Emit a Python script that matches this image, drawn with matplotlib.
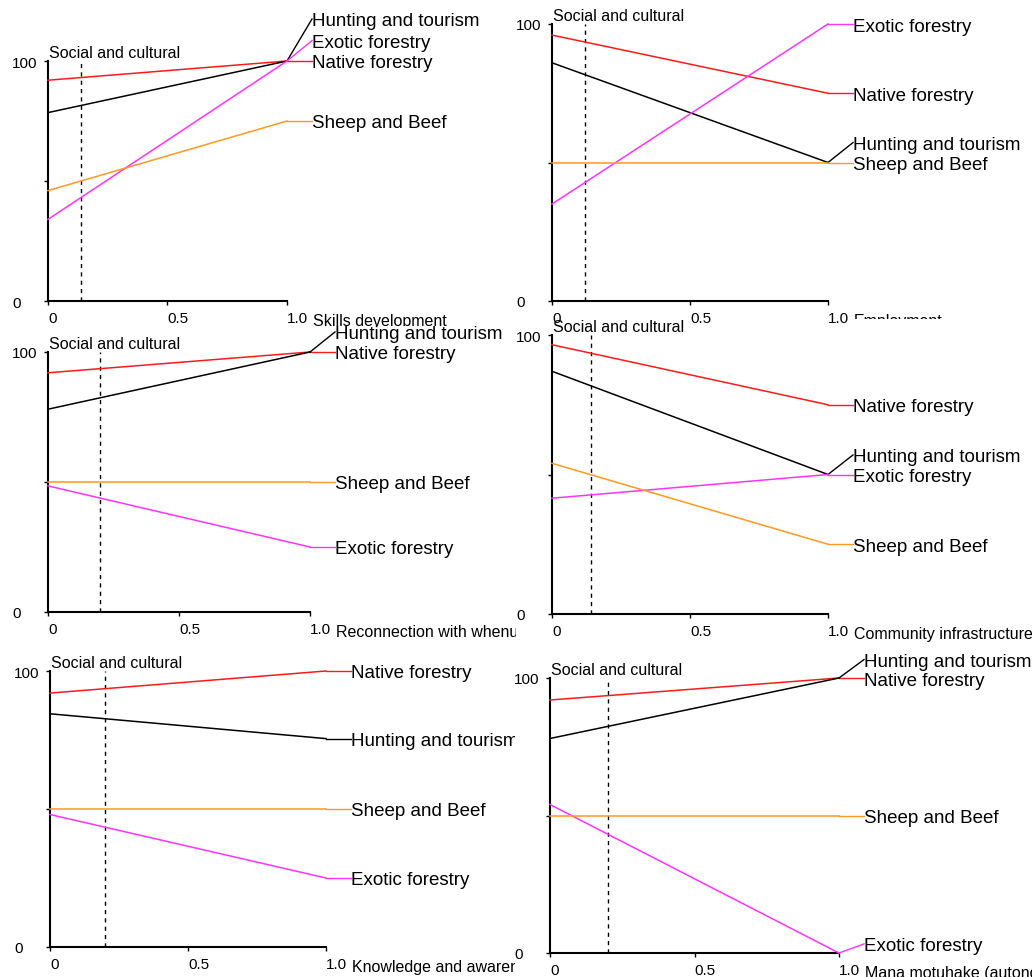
import matplotlib
matplotlib.use('Agg')
import matplotlib.pyplot as plt
from matplotlib.transforms import offset_copy

plt.rcParams['font.family'] = ['Liberation Sans', 'DejaVu Sans']

W, H = 1032, 978

# ---- data ----
alternatives = ['Native forestry', 'Hunting and tourism', 'Exotic forestry', 'Sheep and Beef']
colors = ['#ff1a1a', '#000000', '#ff33ff', '#ff9922']

criteria = ['Skills development', 'Employment', 'Reconnection with whenua',
            'Community infrastructure', 'Knowledge and awareness', 'Mana motuhake (autonomy)']
parent_criterion = 'Social and cultural'
current_weight = [0.14, 0.12, 0.20, 0.14, 0.20, 0.20]

# scores at weight 0 and weight 1 for each criterion (panel)
native_start = [92, 96, 92, 96.5, 92, 92]
native_end = [100, 75, 100, 75, 100, 100]
hunting_start = [78.5, 86, 78, 87, 84.5, 78]
hunting_end = [100, 50, 100, 50, 75.5, 100]
exotic_start = [34, 35, 48.5, 41.5, 48, 54]
exotic_end = [100, 100, 25, 50, 25, 0]
sheep_start = [46, 50, 50, 54, 50, 50]
sheep_end = [75, 50, 50, 25, 50, 50]

# where the end labels sit (score units)
native_label = [100, 75, 100, 75, 100, 100]
hunting_label = [117.5, 57.2, 107.7, 57, 75.5, 106.7]
exotic_label = [108.5, 100, 25, 50, 25, 3.3]
sheep_label = [75, 50, 50, 25, 50, 50]

x_ticks = [0, 0.5, 1.0]
x_ticklabels = ['0', '0.5', '1.0']
y_ticks = [0, 50, 100]
y_ticklabels = ['0', '', '100']

starts = [native_start, hunting_start, exotic_start, sheep_start]
ends = [native_end, hunting_end, exotic_end, sheep_end]
labels_y = [native_label, hunting_label, exotic_label, sheep_label]

# ---- layout (pixels): clip box L,T,R,B ; x0px, x1px, y0px, y100px ----
panels = [
    ((0, 0, 514, 327), (48, 287, 302, 62)),
    ((514, 0, 1032, 320), (552, 828, 302, 25)),
    ((0, 323, 516, 645), (48, 310, 613, 353)),
    ((514, 321, 1032, 643), (552, 828, 615, 336)),
    ((0, 645, 515, 978), (50, 326, 948, 672)),
    ((515, 643, 1032, 978), (550, 839, 954, 679)),
]

fig = plt.figure(figsize=(W / 100, H / 100), dpi=100)

for i, ((L, T, R, B), (x0, x1, y0, y100)) in enumerate(panels):
    ax = fig.add_axes([L / W, 1 - B / H, (R - L) / W, (B - T) / H])
    ax.patch.set_visible(False)
    sx = x1 - x0
    sy = (y0 - y100) / 100.0
    ax.set_xlim((L - x0) / sx, (R - x0) / sx)
    ax.set_ylim((y0 - B) / sy, (y0 - T) / sy)

    for side in ['top', 'right']:
        ax.spines[side].set_visible(False)
    ax.spines['left'].set_position(('data', 0))
    ax.spines['bottom'].set_position(('data', 0))
    ax.spines['left'].set_bounds(0, 100)
    ax.spines['bottom'].set_bounds(0, 1)
    ax.spines['left'].set_linewidth(1.5)
    ax.spines['bottom'].set_linewidth(1.5)

    ax.set_xticks(x_ticks)
    ax.set_xticklabels(x_ticklabels, ha='left', fontsize=11)
    ax.set_yticks(y_ticks)
    ax.set_yticklabels(y_ticklabels, ha='left', fontsize=11)
    ax.tick_params(axis='x', direction='out', length=3, width=1, pad=4)
    ax.tick_params(axis='y', direction='out', length=3, width=1, pad=23)

    # current weight marker
    w = current_weight[i]
    ax.plot([w, w], [0, 100], color='black', lw=1.0, ls=(0, (3, 3)))

    dx = 25.0 / sx
    for k in range(4):
        s, e, ly = starts[k][i], ends[k][i], labels_y[k][i]
        ax.plot([0, 1], [s, e], color=colors[k], lw=1.1, clip_on=True, zorder=3)
        ax.plot([1, 1 + dx], [e, ly], color=colors[k], lw=1.0, clip_on=True, zorder=3)
        ax.text(1 + dx, ly, alternatives[k], fontsize=13.5, ha='left',
                va='center_baseline', clip_on=True, zorder=4)

    ax.text(0, 100, parent_criterion, fontsize=11.5, ha='left', va='bottom',
            transform=offset_copy(ax.transData, fig=fig, x=1, y=1, units='dots'),
            clip_on=True)
    ax.text(1 + dx, 0, criteria[i], fontsize=11.5, ha='left', va='baseline',
            transform=offset_copy(ax.transData, fig=fig, x=1, y=-24, units='dots'),
            clip_on=True)

fig.savefig('out.png', dpi=100)
